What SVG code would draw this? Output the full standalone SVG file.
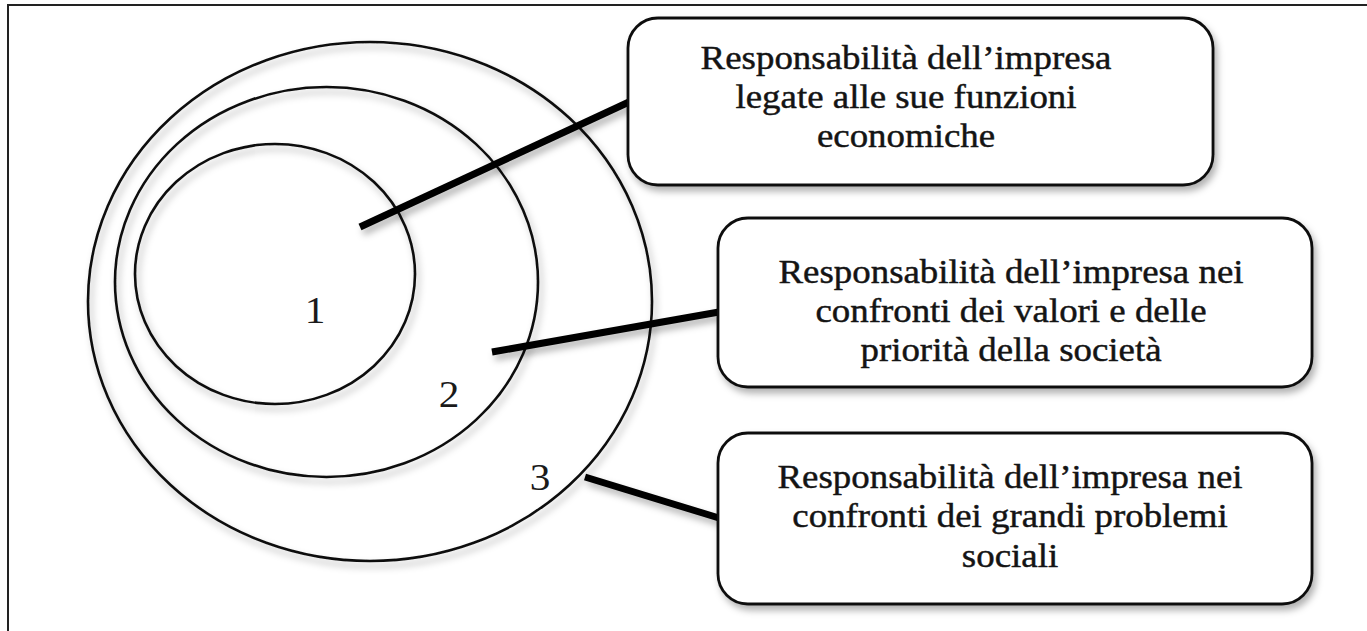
<svg xmlns="http://www.w3.org/2000/svg" width="1367" height="631" viewBox="0 0 1367 631">
  <defs>
    <filter id="sh" x="-10%" y="-10%" width="130%" height="130%">
      <feDropShadow dx="3" dy="5" stdDeviation="3.5" flood-color="#000" flood-opacity="0.3"/>
    </filter>
    <style>
      .ring { fill: none; stroke: #111; stroke-width: 2.6; }
      .box { fill: #fff; stroke: #111; stroke-width: 2.8; }
      .conn { stroke: #000; stroke-width: 7; stroke-linecap: butt; fill: none; }
      .t { font-family: "Liberation Serif", "Times New Roman", serif; font-size: 34px; fill: #141414; stroke: #141414; stroke-width: 0.45; text-anchor: middle; }
      .num { font-family: "Liberation Serif", "Times New Roman", serif; font-size: 38px; fill: #1a1a1a; text-anchor: middle; }
    </style>
  </defs>
  <rect width="1367" height="631" fill="#fff"/>
  <path d="M8,640 V5 H1370" fill="none" stroke="#222" stroke-width="2"/>

  <g id="circles" filter="url(#sh)">
    <ellipse id="circle-3" class="ring" cx="370" cy="301.5" rx="282" ry="259.5"/>
    <ellipse id="circle-2" class="ring" cx="326.5" cy="282" rx="211.5" ry="195"/>
    <ellipse id="circle-1" class="ring" cx="275" cy="274" rx="140" ry="130"/>
  </g>

  <g id="labels">
    <g transform="translate(315,323) scale(1.085,1)"><text class="num" x="0" y="0">1</text></g>
    <g transform="translate(449,407) scale(1.085,1)"><text class="num" x="0" y="0">2</text></g>
    <g transform="translate(540,490) scale(1.085,1)"><text class="num" x="0" y="0">3</text></g>
  </g>

  <g id="connectors" filter="url(#sh)">
    <line class="conn" x1="360" y1="227" x2="629" y2="102"/>
    <line class="conn" x1="492" y1="352" x2="719" y2="312"/>
    <line class="conn" x1="585" y1="477" x2="719" y2="518"/>
  </g>

  <g id="box-1">
    <rect class="box" x="628" y="18" width="585" height="167" rx="30" ry="30" filter="url(#sh)"/>
    <g transform="translate(906,0) scale(1.085,1)">
      <text class="t" x="0" y="69">Responsabilità dell’impresa</text>
      <text class="t" x="0" y="108">legate alle sue funzioni</text>
      <text class="t" x="0" y="147">economiche</text>
    </g>
  </g>

  <g id="box-2">
    <rect class="box" x="718" y="218" width="594" height="169" rx="30" ry="30" filter="url(#sh)"/>
    <g transform="translate(1011,0) scale(1.085,1)">
      <text class="t" x="0" y="283">Responsabilità dell’impresa nei</text>
      <text class="t" x="0" y="322">confronti dei valori e delle</text>
      <text class="t" x="0" y="361">priorità della società</text>
    </g>
  </g>

  <g id="box-3">
    <rect class="box" x="718" y="433" width="594" height="171" rx="30" ry="30" filter="url(#sh)"/>
    <g transform="translate(1010,0) scale(1.085,1)">
      <text class="t" x="0" y="488">Responsabilità dell’impresa nei</text>
      <text class="t" x="0" y="527">confronti dei grandi problemi</text>
      <text class="t" x="0" y="567">sociali</text>
    </g>
  </g>
</svg>
